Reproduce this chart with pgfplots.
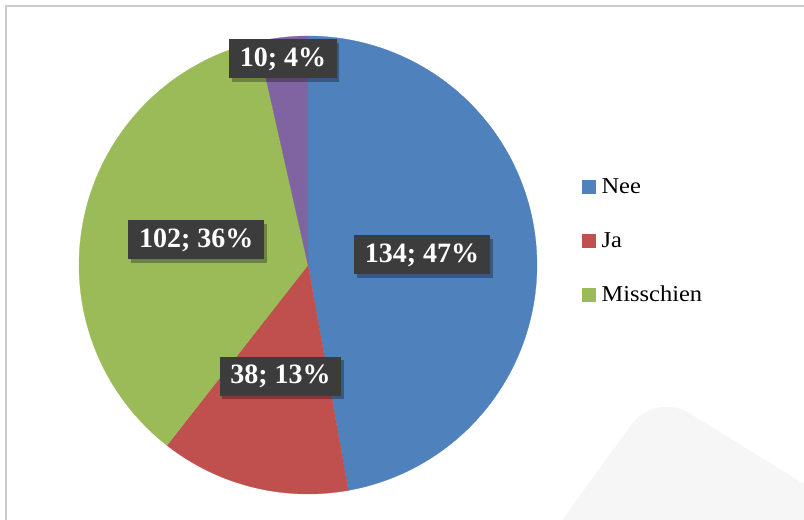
\documentclass[border=0pt]{standalone}
\usepackage{pgfplots}
\pgfplotsset{compat=1.18}
\usepackage{pgfplotstable}
\usepackage{fontspec}
\setmainfont{Liberation Serif}
\newfontfamily\legfont[FakeStretch=1.08]{Liberation Serif}
\usetikzlibrary{shadows}
\definecolor{cNee}{HTML}{4F81BD}
\definecolor{cJa}{HTML}{C0504D}
\definecolor{cMis}{HTML}{9BBB59}
\definecolor{cOv}{HTML}{8064A2}
\definecolor{lblbg}{HTML}{3C3C3C}
\definecolor{frame}{HTML}{CCCCCC}
\definecolor{wmark}{HTML}{F6F6F6}

\pgfplotstableread{
label value
Nee 134
Ja 38
Misschien 102
Overig 10
}\piedata

\tikzset{lbl/.style={fill=lblbg, text=white, font=\fontsize{21}{25}\selectfont\bfseries,
  inner xsep=8pt, inner ysep=0pt, minimum height=29.25pt,
  drop shadow={shadow xshift=2pt, shadow yshift=-2.5pt, opacity=0.3, fill=black}}}

\begin{document}
\begin{tikzpicture}
\pgfplotstablegetelem{0}{value}\of\piedata \edef\vA{\pgfplotsretval}
\pgfplotstablegetelem{1}{value}\of\piedata \edef\vB{\pgfplotsretval}
\pgfplotstablegetelem{2}{value}\of\piedata \edef\vC{\pgfplotsretval}
\pgfplotstablegetelem{3}{value}\of\piedata \edef\vD{\pgfplotsretval}
\pgfmathsetmacro\T{\vA+\vB+\vC+\vD}
\pgfmathsetmacro\aA{90}
\pgfmathsetmacro\aB{\aA-360*(\vA/\T)}
\pgfmathsetmacro\aC{\aB-360*(\vB/\T)}
\pgfmathsetmacro\aD{\aC-360*(\vC/\T)}
\pgfmathsetmacro\aE{\aD-360*(\vD/\T)}
\pgfmathtruncatemacro\pA{round(100*(\vA/\T))}
\pgfmathtruncatemacro\pB{round(100*(\vB/\T))}
\pgfmathtruncatemacro\pC{round(100*(\vC/\T))}
\pgfmathtruncatemacro\pD{round(100*(\vD/\T))}
\def\cx{308}\def\cy{255}\def\R{229}
\pgfmathsetmacro\mA{(\aA+\aB)/2}
\pgfmathsetmacro\mB{(\aB+\aC)/2}
\pgfmathsetmacro\mC{(\aC+\aD)/2}
\begin{axis}[
  width=603pt, height=390pt, scale only axis,
  xmin=0, xmax=804, ymin=0, ymax=520,
  hide axis, clip=false,
  legend cell align=left,
  legend style={at={(0.7239,0.6587)}, anchor=north west, draw=none, fill=none,
    inner sep=0pt, font=\fontsize{17}{20}\selectfont\legfont, row sep=25.5pt,
    nodes={inner sep=0pt, text height=12pt, text depth=3pt, anchor=base west}},
  legend image code/.code={\fill[#1] (0pt,0.3pt) rectangle (9.75pt,10pt); \path (14.25pt,0);},
]
\fill[wmark] (555,-10) [rounded corners=30] -- (655,128) [sharp corners] -- (830,20) -- (830,-10) -- cycle;
\draw[frame, line width=1.5pt] (6,0) -- (6,514) -- (804,514);
\addplot[fill=cNee, draw=cNee, line width=0.2pt, domain=\aB:\aA, samples=120, variable=\t]
  ({\cx+\R*cos(\t)},{\cy+\R*sin(\t)}) -- (\cx,\cy) -- cycle;
\addlegendentry{Nee}
\addplot[fill=cJa, draw=cJa, line width=0.2pt, domain=\aC:\aB, samples=60, variable=\t]
  ({\cx+\R*cos(\t)},{\cy+\R*sin(\t)}) -- (\cx,\cy) -- cycle;
\addlegendentry{Ja}
\addplot[fill=cMis, draw=cMis, line width=0.2pt, domain=\aD:\aC, samples=100, variable=\t]
  ({\cx+\R*cos(\t)},{\cy+\R*sin(\t)}) -- (\cx,\cy) -- cycle;
\addlegendentry{Misschien}
\addplot[forget plot, fill=cOv, draw=cOv, line width=0.2pt, domain=\aE:\aD, samples=30, variable=\t]
  ({\cx+\R*cos(\t)},{\cy+\R*sin(\t)}) -- (\cx,\cy) -- cycle;
\node[lbl] at ({\cx+0.5*\R*cos(\mA)},{\cy+0.5*\R*sin(\mA)}) {\vA; \pA\%};
\node[lbl] at ({\cx+0.5*\R*cos(\mB)},{\cy+0.5*\R*sin(\mB)}) {\vB; \pB\%};
\node[lbl] at ({\cx+0.5*\R*cos(\mC)},{\cy+0.5*\R*sin(\mC)}) {\vC; \pC\%};
\node[lbl] at (283,461) {\vD; \pD\%};
\end{axis}
\pgfresetboundingbox
\path (0,0) rectangle (603pt,390pt);
\end{tikzpicture}
\end{document}
